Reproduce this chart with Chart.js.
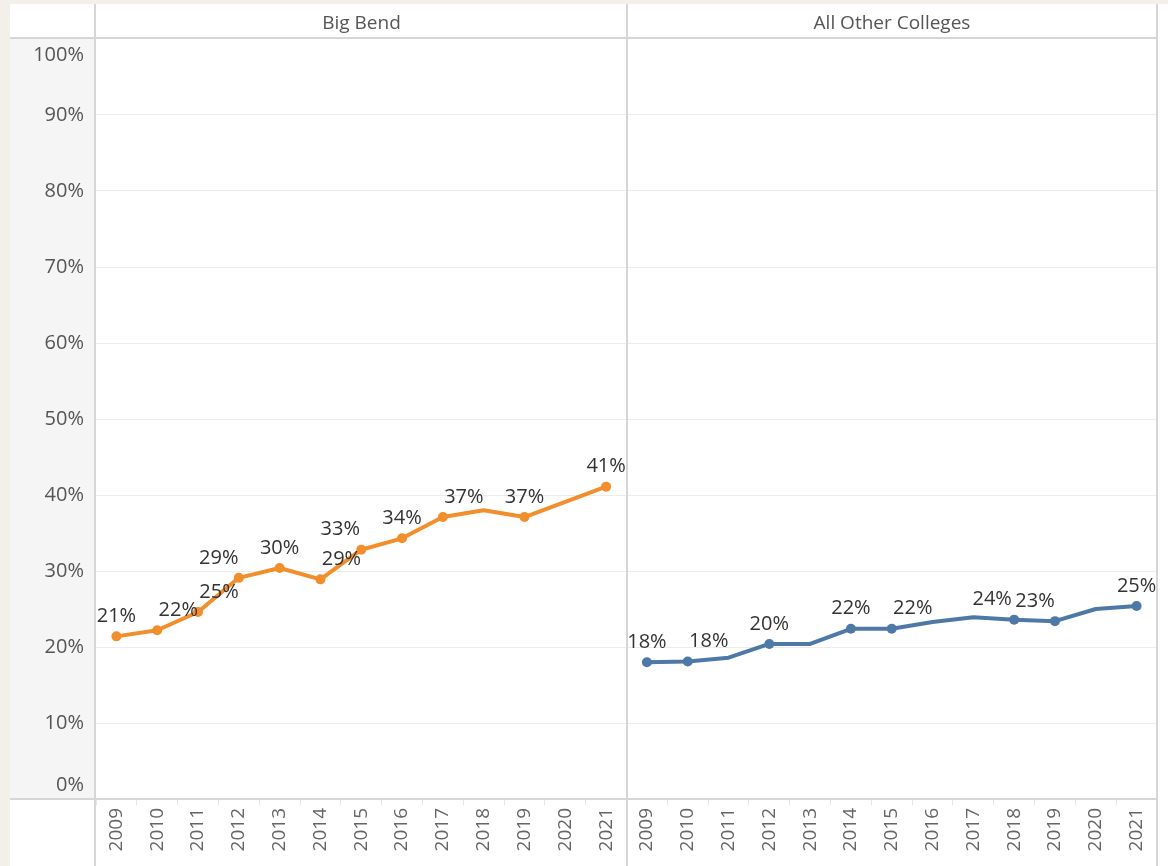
<!DOCTYPE html>
<html>
<head>
<meta charset="utf-8">
<script src="https://cdn.jsdelivr.net/npm/chart.js@4.4.1/dist/chart.umd.min.js"></script>
<style>
  html, body { margin: 0; padding: 0; background: #f3f0ea; overflow: hidden; }
  #wrap { position: relative; width: 1168px; height: 866px; }
  .head { position: absolute; top: 9px; height: 28px; line-height: 28px; text-align: center;
          font: 19px "Open Sans"; color: #555; }
</style>
</head>
<body>
<div id="wrap">
  <canvas id="myChart"></canvas>
  <div class="head" style="left:96px;width:531px">Big Bend</div>
  <div class="head" style="left:627px;width:530px">All Other Colleges</div>
</div>
<script>
// years shown in each pane
var years = ["2009", "2010", "2011", "2012", "2013", "2014", "2015", "2016", "2017", "2018", "2019", "2020", "2021"];
// percent values
var bigBend = [21.4, 22.2, 24.6, 29.1, 30.4, 28.9, 32.8, 34.3, 37.1, 38.0, 37.1, 39.1, 41.1];
var otherColleges = [18.0, 18.1, 18.6, 20.4, 20.4, 22.4, 22.4, 23.3, 23.9, 23.6, 23.4, 25.0, 25.4];
var yTicks = [0, 10, 20, 30, 40, 50, 60, 70, 80, 90, 100];

// label nudges (px) for the points that carry a mark label, null = no mark, no label
var bigBendLabelDx = [0, 21, 21, -20, 0, 21, -21, 0, 21, null, 0, null, 0];
var otherLabelDx = [0, 21, null, 0, null, 0, 21, null, null, -22, -20, null, 0];

var ORANGE = '#f28e2b';
var BLUE = '#4e79a7';
var FONT = '"Open Sans", sans-serif';

var blanks = years.map(function () { return null; });
var labelDx = bigBendLabelDx.concat(otherLabelDx);

function radii(dx) {
    return dx.map(function (d) { return d === null ? 0 : 5; });
}

var framePlugin = {
    id: 'frame',
    beforeDraw: function (chart) {
        var c = chart.ctx, a = chart.chartArea;
        c.save();
        c.fillStyle = '#ffffff';
        c.fillRect(10, 4, 1158, 862);
        c.fillStyle = '#f5f5f5';
        c.fillRect(10, a.top, a.left - 10, a.bottom - a.top);
        c.restore();
    },
    beforeDatasetsDraw: function (chart) {
        var c = chart.ctx, a = chart.chartArea, x = chart.scales.x;
        var mid = (x.getPixelForTick(12) + x.getPixelForTick(13)) / 2;
        c.save();
        c.fillStyle = '#d6d6d6';
        c.fillRect(10, a.top - 2, a.right - 10 + 1, 2);
        c.fillRect(10, a.bottom - 1, a.right - 10 + 1, 2);
        c.fillRect(a.left - 2, 4, 2, 862);
        c.fillRect(Math.round(mid) - 1, 4, 2, 862);
        c.fillRect(a.right - 1, 4, 2, 862);
        c.restore();
    },
    afterDatasetsDraw: function (chart) {
        var c = chart.ctx;
        c.save();
        c.font = '20px ' + FONT;
        c.fillStyle = '#333';
        c.textAlign = 'center';
        c.textBaseline = 'middle';
        chart.data.datasets.forEach(function (ds, di) {
            var meta = chart.getDatasetMeta(di);
            ds.data.forEach(function (v, i) {
                if (v === null || labelDx[i] === null) return;
                var p = meta.data[i];
                c.fillText(Math.round(v) + '%', p.x + labelDx[i], p.y - 20);
            });
        });
        // end labels of the value axis sit inside the pane
        var y = chart.scales.y;
        c.font = '20px ' + FONT;
        c.fillStyle = '#555';
        c.textAlign = 'right';
        c.fillText('100%', chart.chartArea.left - 12, y.getPixelForValue(100) + 16);
        c.fillText('0%', chart.chartArea.left - 12, y.getPixelForValue(0) - 14);
        c.restore();
    }
};

function createChart() {
    var ctx = document.getElementById('myChart').getContext('2d');
    var chart = new Chart(ctx, {
        type: 'line',
        data: {
            labels: years.concat(years),
            datasets: [{
                label: 'Big Bend',
                data: bigBend.concat(blanks),
                borderColor: ORANGE,
                backgroundColor: ORANGE,
                borderWidth: 4,
                pointRadius: radii(bigBendLabelDx).concat(radii(otherLabelDx).map(function () { return 0; })),
                pointBorderWidth: 0,
                tension: 0,
                borderJoinStyle: 'round',
                borderCapStyle: 'round'
            }, {
                label: 'All Other Colleges',
                data: blanks.concat(otherColleges),
                borderColor: BLUE,
                backgroundColor: BLUE,
                borderWidth: 4,
                pointRadius: radii(bigBendLabelDx).map(function () { return 0; }).concat(radii(otherLabelDx)),
                pointBorderWidth: 0,
                tension: 0,
                borderJoinStyle: 'round',
                borderCapStyle: 'round'
            }]
        },
        options: {
            responsive: true,
            maintainAspectRatio: false,
            animation: false,
            events: [],
            layout: { padding: { top: 39, left: 10, right: 11, bottom: 0 } },
            plugins: { legend: { display: false }, tooltip: { enabled: false } },
            scales: {
                x: {
                    offset: true,
                    afterFit: function (s) { s.height = 67; },
                    border: { display: false },
                    grid: {
                        offset: true,
                        drawOnChartArea: false,
                        tickLength: 6,
                        color: '#e4e4e4',
                        tickColor: '#e4e4e4',
                        lineWidth: 1
                    },
                    ticks: {
                        autoSkip: false,
                        minRotation: 90,
                        maxRotation: 90,
                        padding: 3,
                        color: '#666',
                        font: { family: FONT, size: 19 }
                    }
                },
                y: {
                    min: 0,
                    max: 100,
                    afterFit: function (s) { s.width = 86; },
                    afterBuildTicks: function (s) {
                        s.ticks = yTicks.map(function (v) { return { value: v }; });
                    },
                    border: { display: false },
                    grid: {
                        drawTicks: false,
                        lineWidth: 1,
                        color: function (c) {
                            var v = c.tick ? c.tick.value : null;
                            return (v === 0 || v === 100) ? 'rgba(0,0,0,0)' : '#ececec';
                        }
                    },
                    ticks: {
                        padding: 12,
                        color: '#555',
                        font: { family: FONT, size: 20 },
                        callback: function (v) {
                            return (v === 0 || v === 100) ? '' : v + '%';
                        }
                    }
                }
            }
        },
        plugins: [framePlugin]
    });
    return chart;
}

createChart();
</script>
</body>
</html>
